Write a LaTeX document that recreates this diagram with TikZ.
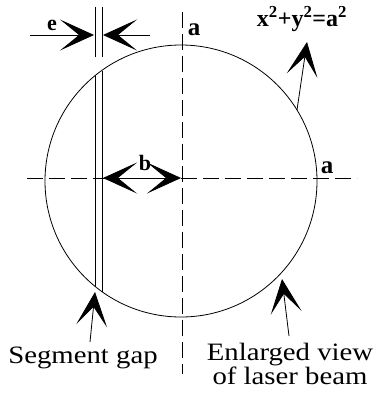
\documentclass[tikz,border=0pt]{standalone}
\usepackage{fontspec}
\setmainfont{Liberation Serif}
\usetikzlibrary{arrows.meta}
\tikzset{
  barb/.tip={Stealth[length=34pt,width=31pt,inset=19pt]},
  bighead/.style={-{barb}},
  bigheads/.style={{barb}-{barb}},
  axis/.style={line width=0.8pt, dash pattern=on 16pt off 6pt},
  thinline/.style={line width=0.8pt},
  lbl/.style={inner sep=0pt, font=\bfseries\fontsize{22}{24}\selectfont},
  txt/.style={inner sep=0pt, align=center, font=\fontsize{25}{22}\selectfont}
}
\begin{document}
\begin{tikzpicture}[x=1pt,y=-1pt]
\useasboundingbox (0,0) rectangle (379,394);
% circle
\coordinate (O) at (181,181);
\draw[thinline] (O) circle[radius=136];
% axes
\coordinate (vt) at (182,12);
\coordinate (vb) at (182,374);
\coordinate (hl) at (27,178);
\coordinate (hr) at (357,178);
\draw[axis] (vt) -- (vb);
\draw[axis] (hl) -- (hr);
% segment gap lines
\coordinate (g1t) at (95,7);  \coordinate (g1m) at (95,57);
\coordinate (g2t) at (102,7); \coordinate (g2m) at (102,57);
\coordinate (g1a) at (95,75.6); \coordinate (g1b) at (95,286.4);
\coordinate (g2a) at (102,70.5); \coordinate (g2b) at (102,291.5);
\draw[thinline] (g1t) -- (g1m) (g2t) -- (g2m);
\draw[thinline] (g1a) -- (g1b) (g2a) -- (g2b);
% e dimension
\coordinate (e1) at (30,35); \coordinate (e1t) at (94,35);
\coordinate (e2) at (150,35); \coordinate (e2t) at (103,35);
\draw[thinline, bighead] (e1) -- (e1t);
\draw[thinline, bighead] (e2) -- (e2t);
\node[lbl] (elab) at (52,25) {e};
% b dimension
\coordinate (b1) at (103,178); \coordinate (b2) at (181,178);
\draw[thinline, bigheads] (b1) -- (b2);
\node[lbl] (blab) at (145,163) {b};
% a labels
\node[lbl, font=\bfseries\fontsize{25}{25}\selectfont] (atop) at (194,30) {a};
\node[lbl, font=\bfseries\fontsize{25}{25}\selectfont] (aright) at (327,168) {a};
% equation
\node[lbl, font=\bfseries\fontsize{24}{24}\selectfont] (eq) at (302,19) {x\textsuperscript{2}+y\textsuperscript{2}=a\textsuperscript{2}};
\coordinate (eqs) at (297,110); \coordinate (eqt) at (307,42);
\draw[thinline, bighead] (eqs) -- (eqt);
% segment gap
\node[txt] (sg) at (83,358) {\scalebox{1.15}[1]{Segment gap}};
\coordinate (sgs) at (90,342);
\coordinate (sgt) at (95,292);
\draw[thinline, bighead] (sgs) -- (sgt);
% enlarged view
\node[txt] (ev) at (290,364) {\scalebox{1.15}[1]{Enlarged view}\\\scalebox{1.15}[1]{of laser beam}};
\coordinate (evs) at (289,336); \coordinate (evt) at (282,279);
\draw[thinline, bighead] (evs) -- (evt);
\end{tikzpicture}
\end{document}
